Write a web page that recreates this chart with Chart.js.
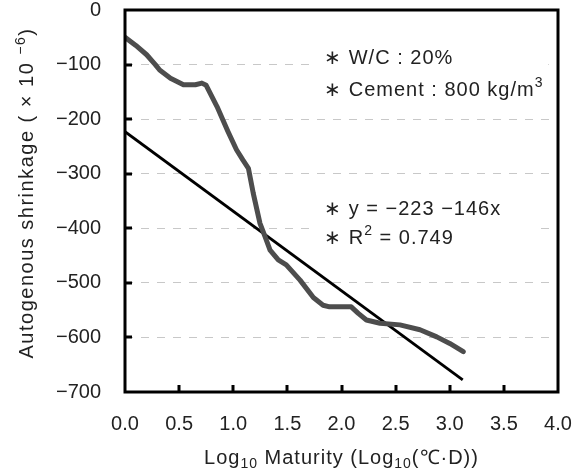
<!DOCTYPE html>
<html>
<head>
<meta charset="utf-8">
<script src="https://cdn.jsdelivr.net/npm/chart.js@4.4.1/dist/chart.umd.min.js"></script>
<style>
html,body{margin:0;padding:0;background:#fff;}
#wrap{width:583px;height:475px;position:relative;}
</style>
</head>
<body>
<div id="wrap"><canvas id="c" width="583" height="475"></canvas></div>
<script>
// Measured curve (Log10 maturity vs autogenous shrinkage)
const curveX = [0, 0.1, 0.2, 0.28, 0.32, 0.42, 0.54, 0.65, 0.71, 0.75, 0.85, 0.95, 1.03, 1.09, 1.14, 1.185, 1.247, 1.293, 1.34, 1.416, 1.49, 1.617, 1.74, 1.83, 1.89, 2.09, 2.155, 2.23, 2.356, 2.54, 2.725, 2.88, 3.0, 3.125];
const curveY = [-50, -65, -82, -100, -110, -125, -137, -137, -134, -138, -177, -222, -256, -275, -290, -336, -391, -415, -440, -458, -467, -495, -527, -541, -544, -544, -556, -568, -574, -577, -586, -599, -611, -626];
// Regression line end points
const fitX = [0, 3.12];
const fitY = [-223, -678];
// Axis ticks
const xTicks = [0.0, 0.5, 1.0, 1.5, 2.0, 2.5, 3.0, 3.5, 4.0];
const yTicks = [0, -100, -200, -300, -400, -500, -600, -700];
// Annotation texts
const noteWC = "W/C : 20%";
const noteCement = "Cement : 800 kg/m";
const noteEq = "y = \u2212223 \u2212146x";
const noteR2 = "= 0.749";

const FONT = '"Liberation Sans", Arial, sans-serif';
const TXT = '#222';

function zip(xs, ys){ return xs.map((x,i)=>({x:x, y:ys[i]})); }

function drawRich(ctx, segs, x, y, size, align, spacing){
  const ls = (spacing || 0) + 'px';
  const setFont = k => {
    ctx.font = (k ? Math.round(size*0.68) : size) + 'px ' + FONT;
    if ('letterSpacing' in ctx) ctx.letterSpacing = ls;
  };
  const widths = segs.map(s => { setFont(s[1]); return ctx.measureText(s[0]).width; });
  const total = widths.reduce((a,b)=>a+b,0);
  let cx = align === 'center' ? x - total/2 : x;
  ctx.textAlign = 'left';
  ctx.textBaseline = 'alphabetic';
  segs.forEach((s,i) => {
    const k = s[1];
    setFont(k);
    let dy = 0;
    if (k === 'sub') dy = size*0.22;
    if (k === 'sup') dy = -size*0.42;
    ctx.fillText(s[0], cx, y + dy);
    cx += widths[i];
  });
  if ('letterSpacing' in ctx) ctx.letterSpacing = '0px';
}

const framePlugin = {
  id: 'frame',
  beforeDatasetsDraw(chart){
    const ctx = chart.ctx;
    const xs = chart.scales.x, ys = chart.scales.y;
    ctx.save();
    ctx.fillStyle = '#fff';
    ctx.fillRect(xs.getPixelForValue(1.73), ys.getPixelForValue(-60), xs.getPixelForValue(3.91)-xs.getPixelForValue(1.73), ys.getPixelForValue(-160)-ys.getPixelForValue(-60));
    ctx.fillRect(xs.getPixelForValue(1.73), ys.getPixelForValue(-345), xs.getPixelForValue(3.77)-xs.getPixelForValue(1.73), ys.getPixelForValue(-445)-ys.getPixelForValue(-345));
    ctx.fillStyle = TXT;
    const tx = xs.getPixelForValue(1.84);
    const star = '\u2217 ';
    drawRich(ctx, [[star + noteWC, '']], tx, ys.getPixelForValue(-99), 20, 'left', 1);
    drawRich(ctx, [[star + noteCement, ''], ['3', 'sup']], tx, ys.getPixelForValue(-157), 20, 'left', 1);
    drawRich(ctx, [[star + noteEq, '']], tx, ys.getPixelForValue(-375), 20, 'left', 1);
    drawRich(ctx, [[star + 'R', ''], ['2', 'sup'], [' ' + noteR2, '']], tx, ys.getPixelForValue(-428), 20, 'left', 1);
    ctx.restore();
  },
  afterDraw(chart){
    const ctx = chart.ctx, a = chart.chartArea;
    const xs = chart.scales.x, ys = chart.scales.y;
    ctx.save();
    ctx.strokeStyle = '#000';
    ctx.lineWidth = 3;
    ctx.setLineDash([]);
    ctx.beginPath();
    yTicks.forEach(v => {
      if (v === 0 || v === -700) return;
      const py = Math.round(ys.getPixelForValue(v));
      ctx.moveTo(a.left, py); ctx.lineTo(a.left + 7, py);
    });
    xTicks.forEach(v => {
      if (v === 0 || v === 4) return;
      const px = Math.round(xs.getPixelForValue(v));
      ctx.moveTo(px, a.bottom); ctx.lineTo(px, a.bottom - 7);
    });
    ctx.stroke();
    ctx.strokeRect(a.left, a.top, a.right - a.left, a.bottom - a.top);
    ctx.fillStyle = TXT;
    drawRich(ctx, [['Log', ''], ['10', 'sub'], [' Maturity (Log', ''], ['10', 'sub'], ['(\u2103\u00b7D))', '']], (a.left + a.right)/2, 464, 20, 'center', 1);
    ctx.translate(33, (a.top + a.bottom)/2 - 8);
    ctx.rotate(-Math.PI/2);
    drawRich(ctx, [['Autogenous shrinkage ( \u00d7 10 ', ''], ['\u22126', 'sup'], [')', '']], 0, 0, 20, 'center', 1.5);
    ctx.restore();
  }
};

new Chart(document.getElementById('c'), {
  type: 'scatter',
  data: {
    datasets: [
      { label: 'Measured', data: zip(curveX, curveY), showLine: true, borderColor: '#4d4d4d', borderWidth: 5, pointRadius: 0, borderCapStyle: 'round', borderJoinStyle: 'round', tension: 0 },
      { label: 'Fit', data: zip(fitX, fitY), showLine: true, borderColor: '#000', borderWidth: 2.8, pointRadius: 0, tension: 0 }
    ]
  },
  options: {
    responsive: false,
    animation: false,
    events: [],
    layout: { padding: { top: 10, right: 25, left: 0, bottom: 0 } },
    plugins: { legend: { display: false }, tooltip: { enabled: false } },
    scales: {
      x: {
        type: 'linear', min: 0, max: 4,
        afterBuildTicks(s){ s.ticks = xTicks.map(v => ({value: v})); },
        afterFit(s){ s.height = 83; s.paddingLeft = 0; s.paddingRight = 0; },
        grid: { display: false, drawTicks: false },
        border: { display: false },
        ticks: { padding: 20, color: TXT, font: { family: FONT, size: 20 }, maxRotation: 0, autoSkip: false,
          callback: v => Number(v).toFixed(1) }
      },
      y: {
        type: 'linear', min: -700, max: 0,
        afterBuildTicks(s){ s.ticks = yTicks.map(v => ({value: v})); },
        afterFit(s){ s.width = 125; s.paddingTop = 0; s.paddingBottom = 0; },
        grid: { drawTicks: false, lineWidth: 1,
          color: c => (c.tick && (c.tick.value === 0 || c.tick.value === -700)) ? 'rgba(0,0,0,0)' : '#c8c8c8' },
        border: { display: false, dash: [8, 8], dashOffset: 0 },
        ticks: { padding: 24, color: TXT, font: { family: FONT, size: 20 }, autoSkip: false,
          callback: v => String(v).replace('-', '\u2212') }
      }
    }
  },
  plugins: [framePlugin]
});
</script>
</body>
</html>
